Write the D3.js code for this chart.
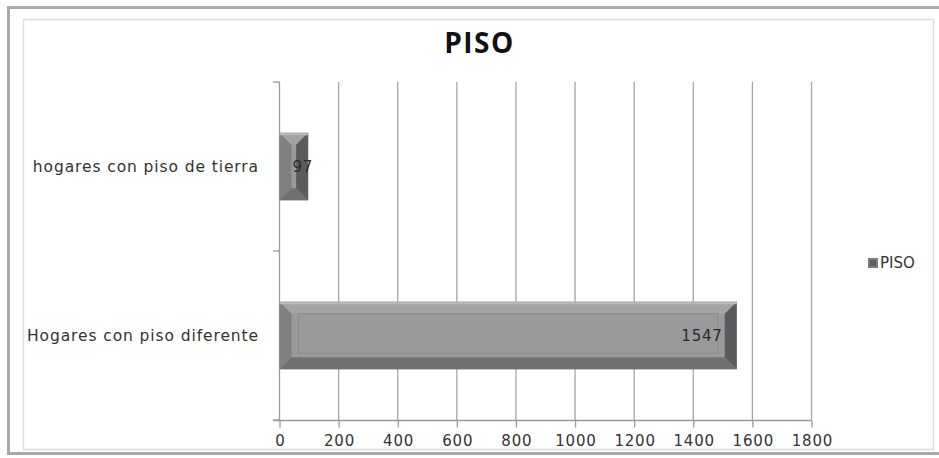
<!DOCTYPE html>
<html>
<head>
<meta charset="utf-8">
<script src="https://cdn.jsdelivr.net/npm/d3@7"></script>
<style>
  body { margin: 0; background: #fff; }
  svg { display: block; }
</style>
</head>
<body>
<div id="chart"></div>
<script>
// values, top to bottom as shown
const categories = ["hogares con piso de tierra", "Hogares con piso diferente"];
const values = [97, 1547];
const seriesName = "PISO";
const tickValues = [0, 200, 400, 600, 800, 1000, 1200, 1400, 1600, 1800];

const W = 939, H = 458;
const svg = d3.select('#chart').append('svg')
    .attr('width', W).attr('height', H);

// frame of the chart object
svg.append('rect')
    .attr('x', 8.5).attr('y', 7.5).attr('width', 945).attr('height', 446)
    .attr('fill', 'none').attr('stroke', '#a9a9a9').attr('stroke-width', 3);
svg.append('rect')
    .attr('x', 23.5).attr('y', 19.5).attr('width', 910).attr('height', 430)
    .attr('fill', 'none').attr('stroke', '#dedede').attr('stroke-width', 1.5);

svg.append('text')
    .attr('x', 479.5).attr('y', 53)
    .attr('text-anchor', 'middle')
    .attr('font-family', 'Open Sans, sans-serif')
    .attr('font-weight', 'bold')
    .attr('font-size', 28)
    .attr('letter-spacing', 1.5)
    .attr('fill', '#111')
    .text(seriesName);

const x = d3.scaleLinear().domain([0, 1800]).range([279.5, 811.5]);
const y = d3.scaleBand().domain(categories).range([82, 420])
    .paddingInner(0.6).paddingOuter(0.3);

// gridlines
svg.append('g').selectAll('line')
    .data(tickValues.slice(1))
    .join('line')
    .attr('x1', d => x(d)).attr('x2', d => x(d))
    .attr('y1', 82).attr('y2', 420.5)
    .attr('stroke', '#a6a6a6').attr('stroke-width', 1.3);

// x axis
const xAxis = svg.append('g')
    .attr('transform', 'translate(0,420.5)')
    .call(d3.axisBottom(x).tickValues(tickValues).tickFormat(d3.format('d'))
        .tickSize(7).tickPadding(8).tickSizeOuter(0));
xAxis.select('.domain').attr('d', 'M273,0H' + x(1800)).attr('stroke', '#9a9a9a').attr('stroke-width', 1.3);
xAxis.selectAll('.tick line').attr('stroke', '#9a9a9a').attr('stroke-width', 1.3);
xAxis.selectAll('.tick text')
    .attr('font-family', 'DejaVu Sans, sans-serif')
    .attr('font-size', 15)
    .attr('letter-spacing', 0.8)
    .attr('dx', 0.4)
    .attr('fill', '#333');

// category axis
const yAxisG = svg.append('g');
yAxisG.append('line')
    .attr('x1', x(0)).attr('x2', x(0)).attr('y1', 82).attr('y2', 420.5)
    .attr('stroke', '#9a9a9a').attr('stroke-width', 1.3);
const step = y.step();
const bounds = [82, 82 + step, 420];
yAxisG.selectAll('line.tk')
    .data(bounds)
    .join('line').attr('class', 'tk')
    .attr('x1', 273).attr('x2', x(0))
    .attr('y1', d => d).attr('y2', d => d)
    .attr('stroke', '#9a9a9a').attr('stroke-width', 1.3);
yAxisG.selectAll('text')
    .data(categories)
    .join('text')
    .attr('x', 259)
    .attr('y', d => y(d) + y.bandwidth() / 2)
    .attr('dy', '0.35em')
    .attr('text-anchor', 'end')
    .attr('font-family', 'DejaVu Sans, sans-serif')
    .attr('font-size', 15.5)
    .attr('letter-spacing', 0.9)
    .attr('fill', '#333')
    .text(d => d);

// bevelled bars
const bars = svg.append('g');
categories.forEach((c, i) => {
    const x0 = x(0), x1 = x(values[i]);
    const y0 = y(c), y1 = y(c) + y.bandwidth();
    const b = Math.min(12, (x1 - x0) / 2);
    const g = bars.append('g');
    g.append('rect').attr('x', x0).attr('y', y0).attr('width', x1 - x0).attr('height', y1 - y0)
        .attr('fill', '#999a9c');
    const poly = (pts, fill) => g.append('polygon')
        .attr('points', pts.map(p => p.join(',')).join(' ')).attr('fill', fill);
    poly([[x0, y0], [x1, y0], [x1 - b, y0 + b], [x0 + b, y0 + b]], '#a3a4a6');
    poly([[x0, y1], [x1, y1], [x1 - b, y1 - b], [x0 + b, y1 - b]], '#6f7072');
    poly([[x0, y0], [x0 + b, y0 + b], [x0 + b, y1 - b], [x0, y1]], '#7f8082');
    poly([[x1, y0], [x1 - b, y0 + b], [x1 - b, y1 - b], [x1, y1]], '#5a5b5d');
    g.append('line').attr('x1', x0).attr('x2', x1).attr('y1', y0 + 1.5).attr('y2', y0 + 1.5)
        .attr('stroke', '#b9babc').attr('stroke-width', 2);
    if (x1 - x0 > 60) {
        g.append('rect')
            .attr('x', x0 + 19).attr('y', y0 + 12)
            .attr('width', x1 - x0 - 38).attr('height', y1 - y0 - 28)
            .attr('fill', 'none').attr('stroke', '#8a8b8d').attr('stroke-width', 1.2);
    }
    const small = x1 - x0 < 60;
    g.append('text')
        .attr('x', small ? x0 + 13 : x1 - 14)
        .attr('y', (y0 + y1) / 2)
        .attr('dy', '0.35em')
        .attr('text-anchor', small ? 'start' : 'end')
        .attr('font-family', 'DejaVu Sans, sans-serif')
        .attr('font-size', 15)
        .attr('letter-spacing', 0.8)
        .attr('fill', '#2b2b2b')
        .text(values[i]);
});

// legend
const leg = svg.append('g').attr('transform', 'translate(868,258)');
leg.append('rect').attr('width', 10).attr('height', 10).attr('fill', '#7a7b7d');
leg.append('rect').attr('x', 2).attr('y', 2).attr('width', 6).attr('height', 6).attr('fill', '#5f6062');
leg.append('text')
    .attr('x', 12).attr('y', 5).attr('dy', '0.35em')
    .attr('font-family', 'DejaVu Sans, sans-serif')
    .attr('font-size', 15)
    .attr('fill', '#333')
    .text(seriesName);
</script>
</body>
</html>
